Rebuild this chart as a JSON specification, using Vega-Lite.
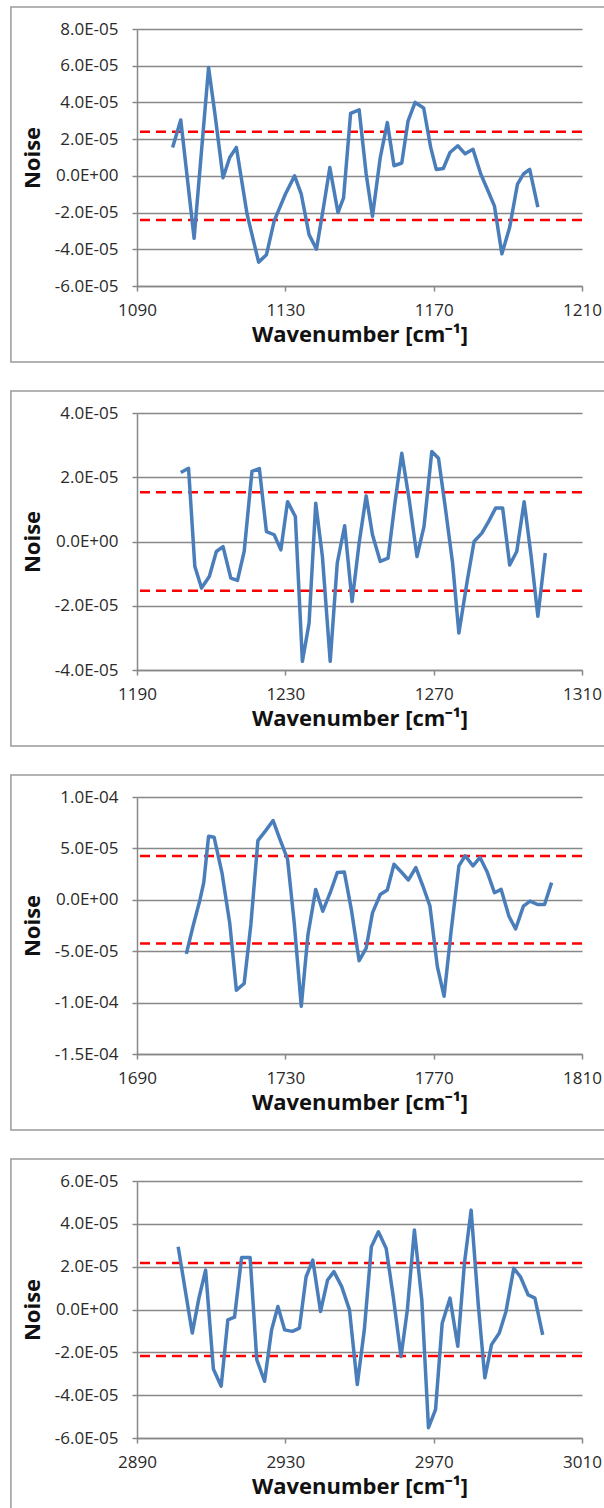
{
  "$schema": "https://vega.github.io/schema/vega-lite/v6.json",
  "padding": {"left": 10, "top": 6, "right": 0, "bottom": 0},
  "autosize": {"type": "pad"},
  "background": "white",
  "bounds": "flush",
  "spacing": 127,
  "config": {
    "view": {"stroke": null},
    "axis": {
      "labelFont": "Open Sans",
      "labelFontSize": 17,
      "labelColor": "#2a2a2a",
      "titleFont": "Open Sans",
      "titleFontSize": 22,
      "titleFontWeight": "bold",
      "titleColor": "#111111",
      "domainColor": "#888888",
      "domainWidth": 1.5,
      "tickColor": "#888888",
      "tickWidth": 1.5,
      "tickSize": 5,
      "gridColor": "#888888",
      "gridWidth": 1.3,
      "labelFlush": false,
      "labelOverlap": false,
      "labelBound": false
    },
    "axisX": {"grid": false, "labelPadding": 11, "titlePadding": 6, "format": "d"},
    "axisY": {"grid": true, "labelPadding": 14, "titlePadding": 10,
      "labelExpr": "(datum.value < -1e-12 ? '-' : '') + replace(replace(format(abs(datum.value), '.1e'), 'e-', 'E-0'), 'e+', 'E+0')"}
  },
  "datasets": {
    "p1": [
      {"wn": 1099.6, "noise": 1.55e-5}, {"wn": 1101.8, "noise": 3.04e-5}, {"wn": 1105.4, "noise": -3.4e-5},
      {"wn": 1109.3, "noise": 5.9e-5}, {"wn": 1111.0, "noise": 3.4e-5}, {"wn": 1113.2, "noise": -0.1e-5}, {"wn": 1115.0, "noise": 1.0e-5},
      {"wn": 1116.8, "noise": 1.55e-5}, {"wn": 1119.7, "noise": -2.1e-5}, {"wn": 1122.8, "noise": -4.7e-5},
      {"wn": 1124.9, "noise": -4.3e-5}, {"wn": 1127.0, "noise": -2.45e-5}, {"wn": 1130.0, "noise": -1.0e-5},
      {"wn": 1132.5, "noise": 0.0}, {"wn": 1134.3, "noise": -1.0e-5}, {"wn": 1136.4, "noise": -3.2e-5},
      {"wn": 1138.4, "noise": -4.0e-5}, {"wn": 1140.3, "noise": -1.7e-5}, {"wn": 1142.0, "noise": 0.45e-5},
      {"wn": 1144.2, "noise": -2.0e-5}, {"wn": 1145.7, "noise": -1.2e-5}, {"wn": 1147.6, "noise": 3.4e-5},
      {"wn": 1149.9, "noise": 3.6e-5}, {"wn": 1151.8, "noise": 0.1e-5}, {"wn": 1153.5, "noise": -2.2e-5},
      {"wn": 1155.6, "noise": 1.0e-5}, {"wn": 1157.5, "noise": 2.9e-5}, {"wn": 1159.3, "noise": 0.55e-5},
      {"wn": 1161.4, "noise": 0.7e-5}, {"wn": 1163.1, "noise": 3.0e-5}, {"wn": 1165.0, "noise": 4.0e-5},
      {"wn": 1167.3, "noise": 3.7e-5}, {"wn": 1169.2, "noise": 1.55e-5}, {"wn": 1170.7, "noise": 0.35e-5},
      {"wn": 1172.6, "noise": 0.4e-5}, {"wn": 1174.4, "noise": 1.27e-5}, {"wn": 1176.5, "noise": 1.64e-5},
      {"wn": 1178.5, "noise": 1.2e-5}, {"wn": 1180.6, "noise": 1.45e-5}, {"wn": 1182.7, "noise": 0.1e-5},
      {"wn": 1184.3, "noise": -0.65e-5}, {"wn": 1186.4, "noise": -1.65e-5}, {"wn": 1188.4, "noise": -4.25e-5},
      {"wn": 1190.5, "noise": -2.8e-5}, {"wn": 1192.6, "noise": -0.45e-5}, {"wn": 1194.2, "noise": 0.1e-5},
      {"wn": 1195.9, "noise": 0.35e-5}, {"wn": 1198.1, "noise": -1.7e-5}
    ],
    "p2": [
      {"wn": 1201.8, "noise": 2.15e-5}, {"wn": 1203.9, "noise": 2.28e-5}, {"wn": 1205.6, "noise": -0.78e-5},
      {"wn": 1207.4, "noise": -1.45e-5}, {"wn": 1209.5, "noise": -1.09e-5}, {"wn": 1211.4, "noise": -0.31e-5},
      {"wn": 1213.2, "noise": -0.16e-5}, {"wn": 1215.3, "noise": -1.14e-5}, {"wn": 1217.1, "noise": -1.21e-5},
      {"wn": 1218.9, "noise": -0.31e-5}, {"wn": 1221.0, "noise": 2.18e-5}, {"wn": 1223.0, "noise": 2.27e-5},
      {"wn": 1224.9, "noise": 0.31e-5}, {"wn": 1227.0, "noise": 0.21e-5}, {"wn": 1228.8, "noise": -0.26e-5},
      {"wn": 1230.6, "noise": 1.24e-5}, {"wn": 1232.7, "noise": 0.78e-5}, {"wn": 1234.6, "noise": -3.73e-5},
      {"wn": 1236.4, "noise": -2.54e-5}, {"wn": 1238.2, "noise": 1.19e-5}, {"wn": 1240.0, "noise": -0.47e-5},
      {"wn": 1242.1, "noise": -3.73e-5}, {"wn": 1244.0, "noise": -0.67e-5}, {"wn": 1246.0, "noise": 0.49e-5},
      {"wn": 1248.0, "noise": -1.87e-5}, {"wn": 1249.9, "noise": -0.05e-5}, {"wn": 1251.8, "noise": 1.42e-5},
      {"wn": 1253.5, "noise": 0.21e-5}, {"wn": 1255.6, "noise": -0.62e-5}, {"wn": 1257.7, "noise": -0.52e-5},
      {"wn": 1259.6, "noise": 1.24e-5}, {"wn": 1261.4, "noise": 2.75e-5}, {"wn": 1263.4, "noise": 1.3e-5},
      {"wn": 1265.5, "noise": -0.47e-5}, {"wn": 1267.4, "noise": 0.47e-5}, {"wn": 1269.5, "noise": 2.8e-5},
      {"wn": 1271.3, "noise": 2.59e-5}, {"wn": 1273.1, "noise": 1.09e-5}, {"wn": 1275.1, "noise": -0.67e-5},
      {"wn": 1276.8, "noise": -2.85e-5}, {"wn": 1279.1, "noise": -1.19e-5}, {"wn": 1280.9, "noise": 0.0},
      {"wn": 1283.0, "noise": 0.26e-5}, {"wn": 1284.8, "noise": 0.62e-5}, {"wn": 1286.7, "noise": 1.04e-5},
      {"wn": 1288.6, "noise": 1.04e-5}, {"wn": 1290.5, "noise": -0.73e-5}, {"wn": 1292.4, "noise": -0.31e-5},
      {"wn": 1294.4, "noise": 1.24e-5}, {"wn": 1296.3, "noise": -0.47e-5}, {"wn": 1298.1, "noise": -2.33e-5},
      {"wn": 1300.1, "noise": -0.36e-5}
    ],
    "p3": [
      {"wn": 1703.3, "noise": -5.26e-5}, {"wn": 1705.1, "noise": -2.58e-5}, {"wn": 1707.0, "noise": 0.03e-5},
      {"wn": 1708.0, "noise": 1.67e-5}, {"wn": 1709.3, "noise": 6.18e-5}, {"wn": 1710.8, "noise": 6.08e-5},
      {"wn": 1712.9, "noise": 2.65e-5}, {"wn": 1715.0, "noise": -2.25e-5}, {"wn": 1716.8, "noise": -8.8e-5},
      {"wn": 1718.9, "noise": -8.14e-5}, {"wn": 1720.7, "noise": -2.42e-5}, {"wn": 1722.6, "noise": 5.75e-5},
      {"wn": 1724.7, "noise": 6.73e-5}, {"wn": 1726.7, "noise": 7.71e-5}, {"wn": 1728.5, "noise": 5.92e-5},
      {"wn": 1730.6, "noise": 3.95e-5}, {"wn": 1732.4, "noise": -2.25e-5}, {"wn": 1734.3, "noise": -10.36e-5},
      {"wn": 1736.1, "noise": -3.4e-5}, {"wn": 1738.2, "noise": 1.01e-5}, {"wn": 1740.1, "noise": -1.11e-5},
      {"wn": 1742.1, "noise": 0.69e-5}, {"wn": 1744.0, "noise": 2.65e-5}, {"wn": 1745.9, "noise": 2.71e-5},
      {"wn": 1747.8, "noise": -0.95e-5}, {"wn": 1749.9, "noise": -5.92e-5}, {"wn": 1751.8, "noise": -4.7e-5},
      {"wn": 1753.5, "noise": -1.27e-5}, {"wn": 1755.6, "noise": 0.52e-5}, {"wn": 1757.5, "noise": 0.95e-5},
      {"wn": 1759.3, "noise": 3.46e-5}, {"wn": 1761.4, "noise": 2.65e-5}, {"wn": 1763.2, "noise": 1.93e-5},
      {"wn": 1765.2, "noise": 3.14e-5}, {"wn": 1767.1, "noise": 1.34e-5}, {"wn": 1769.0, "noise": -0.62e-5},
      {"wn": 1771.0, "noise": -6.5e-5}, {"wn": 1772.8, "noise": -9.38e-5}, {"wn": 1774.7, "noise": -3.07e-5},
      {"wn": 1776.8, "noise": 3.3e-5}, {"wn": 1778.5, "noise": 4.28e-5}, {"wn": 1780.6, "noise": 3.3e-5},
      {"wn": 1782.5, "noise": 4.12e-5}, {"wn": 1784.5, "noise": 2.65e-5}, {"wn": 1786.4, "noise": 0.69e-5},
      {"wn": 1788.2, "noise": 1.01e-5}, {"wn": 1790.3, "noise": -1.6e-5}, {"wn": 1792.1, "noise": -2.84e-5},
      {"wn": 1794.2, "noise": -0.62e-5}, {"wn": 1796.0, "noise": -0.13e-5}, {"wn": 1798.0, "noise": -0.46e-5},
      {"wn": 1799.9, "noise": -0.46e-5}, {"wn": 1801.8, "noise": 1.67e-5}
    ],
    "p4": [
      {"wn": 2901.1, "noise": 2.93e-5}, {"wn": 2903.0, "noise": 0.91e-5}, {"wn": 2904.9, "noise": -1.1e-5},
      {"wn": 2906.7, "noise": 0.53e-5}, {"wn": 2908.5, "noise": 1.84e-5}, {"wn": 2910.6, "noise": -2.78e-5},
      {"wn": 2912.7, "noise": -3.58e-5}, {"wn": 2914.5, "noise": -0.48e-5}, {"wn": 2916.3, "noise": -0.36e-5},
      {"wn": 2918.2, "noise": 2.43e-5}, {"wn": 2920.5, "noise": 2.43e-5}, {"wn": 2922.3, "noise": -2.34e-5},
      {"wn": 2924.4, "noise": -3.35e-5}, {"wn": 2926.3, "noise": -0.95e-5}, {"wn": 2928.0, "noise": 0.14e-5},
      {"wn": 2929.8, "noise": -0.95e-5}, {"wn": 2931.9, "noise": -1.02e-5}, {"wn": 2933.8, "noise": -0.87e-5},
      {"wn": 2935.6, "noise": 1.53e-5}, {"wn": 2937.4, "noise": 2.31e-5}, {"wn": 2939.5, "noise": -0.09e-5},
      {"wn": 2941.4, "noise": 1.38e-5}, {"wn": 2943.1, "noise": 1.77e-5}, {"wn": 2945.2, "noise": 1.07e-5},
      {"wn": 2947.3, "noise": -0.02e-5}, {"wn": 2949.4, "noise": -3.5e-5}, {"wn": 2951.3, "noise": -0.95e-5},
      {"wn": 2953.2, "noise": 2.93e-5}, {"wn": 2955.1, "noise": 3.63e-5}, {"wn": 2957.2, "noise": 2.85e-5},
      {"wn": 2959.1, "noise": 0.6e-5}, {"wn": 2961.2, "noise": -2.19e-5}, {"wn": 2962.9, "noise": -0.02e-5},
      {"wn": 2964.8, "noise": 3.71e-5}, {"wn": 2966.8, "noise": 0.45e-5}, {"wn": 2968.6, "noise": -5.52e-5},
      {"wn": 2970.5, "noise": -4.67e-5}, {"wn": 2972.3, "noise": -0.64e-5}, {"wn": 2974.4, "noise": 0.53e-5},
      {"wn": 2976.5, "noise": -1.72e-5}, {"wn": 2978.3, "noise": 2.16e-5}, {"wn": 2980.1, "noise": 4.64e-5},
      {"wn": 2982.0, "noise": 0.29e-5}, {"wn": 2983.8, "noise": -3.19e-5}, {"wn": 2985.6, "noise": -1.64e-5},
      {"wn": 2987.7, "noise": -1.1e-5}, {"wn": 2989.5, "noise": -0.09e-5}, {"wn": 2991.6, "noise": 1.92e-5},
      {"wn": 2993.4, "noise": 1.53e-5}, {"wn": 2995.5, "noise": 0.68e-5}, {"wn": 2997.3, "noise": 0.53e-5},
      {"wn": 2999.4, "noise": -1.18e-5}
    ],
    "l1": [{"lim": 2.4e-5}, {"lim": -2.4e-5}],
    "l2": [{"lim": 1.53e-5}, {"lim": -1.53e-5}],
    "l3": [{"lim": 4.25e-5}, {"lim": -4.25e-5}],
    "l4": [{"lim": 2.17e-5}, {"lim": -2.17e-5}],
    "one": [{"frame": 1}]
  },
  "vconcat": [
    {
      "width": 445, "height": 257,
      "layer": [
        {"data": {"name": "one"},
         "mark": {"type": "rect", "fill": null, "stroke": "#9a9a9a", "strokeWidth": 1.5, "clip": false},
         "encoding": {
           "x": {"datum": 1056.0, "type": "quantitative", "scale": {"domain": [1090, 1210], "nice": false, "zero": false},
                 "axis": {"values": [1090, 1130, 1170, 1210], "title": "Wavenumber [cm\u207b\u00b9]"}},
           "x2": {"datum": 1222},
           "y": {"datum": 9.198e-5, "type": "quantitative", "scale": {"domain": [-6e-5, 8e-5], "nice": false, "zero": false},
                 "axis": {"values": [-6e-5, -4e-5, -2e-5, 0, 2e-5, 4e-5, 6e-5, 8e-5], "title": "Noise"}},
           "y2": {"datum": -1.014e-4}}},
        {"data": {"name": "l1"}, "mark": {"type": "rule", "color": "#ff0000", "strokeWidth": 2.5, "strokeDash": [10, 6]},
         "encoding": {
           "y": {"field": "lim", "type": "quantitative", "scale": {"domain": [-6e-5, 8e-5], "nice": false, "zero": false},
                 "axis": {"values": [-6e-5, -4e-5, -2e-5, 0, 2e-5, 4e-5, 6e-5, 8e-5], "title": "Noise"}}}},
        {"data": {"name": "p1"}, "mark": {"type": "line", "color": "#4a7ebb", "strokeWidth": 3.5, "strokeJoin": "round"},
         "encoding": {
           "x": {"field": "wn", "type": "quantitative", "scale": {"domain": [1090, 1210], "nice": false, "zero": false},
                 "axis": {"values": [1090, 1130, 1170, 1210], "title": "Wavenumber [cm\u207b\u00b9]"}},
           "y": {"field": "noise", "type": "quantitative", "scale": {"domain": [-6e-5, 8e-5], "nice": false, "zero": false},
                 "axis": {"values": [-6e-5, -4e-5, -2e-5, 0, 2e-5, 4e-5, 6e-5, 8e-5], "title": "Noise"}}
         }}
      ]
    },
    {
      "width": 445, "height": 257,
      "layer": [
        {"data": {"name": "one"},
         "mark": {"type": "rect", "fill": null, "stroke": "#9a9a9a", "strokeWidth": 1.5, "clip": false},
         "encoding": {
           "x": {"datum": 1156.0, "type": "quantitative", "scale": {"domain": [1190, 1310], "nice": false, "zero": false},
                 "axis": {"values": [1190, 1230, 1270, 1310], "title": "Wavenumber [cm\u207b\u00b9]"}},
           "x2": {"datum": 1322},
           "y": {"datum": 4.685e-5, "type": "quantitative", "scale": {"domain": [-4e-5, 4e-5], "nice": false, "zero": false},
                 "axis": {"values": [-4e-5, -2e-5, 0, 2e-5, 4e-5], "title": "Noise"}},
           "y2": {"datum": -6.366e-5}}},
        {"data": {"name": "l2"}, "mark": {"type": "rule", "color": "#ff0000", "strokeWidth": 2.5, "strokeDash": [10, 6]},
         "encoding": {
           "y": {"field": "lim", "type": "quantitative", "scale": {"domain": [-4e-5, 4e-5], "nice": false, "zero": false},
                 "axis": {"values": [-4e-5, -2e-5, 0, 2e-5, 4e-5], "title": "Noise"}}}},
        {"data": {"name": "p2"}, "mark": {"type": "line", "color": "#4a7ebb", "strokeWidth": 3.5, "strokeJoin": "round"},
         "encoding": {
           "x": {"field": "wn", "type": "quantitative", "scale": {"domain": [1190, 1310], "nice": false, "zero": false},
                 "axis": {"values": [1190, 1230, 1270, 1310], "title": "Wavenumber [cm\u207b\u00b9]"}},
           "y": {"field": "noise", "type": "quantitative", "scale": {"domain": [-4e-5, 4e-5], "nice": false, "zero": false},
                 "axis": {"values": [-4e-5, -2e-5, 0, 2e-5, 4e-5], "title": "Noise"}}
         }}
      ]
    },
    {
      "width": 445, "height": 257,
      "layer": [
        {"data": {"name": "one"},
         "mark": {"type": "rect", "fill": null, "stroke": "#9a9a9a", "strokeWidth": 1.5, "clip": false},
         "encoding": {
           "x": {"datum": 1656.0, "type": "quantitative", "scale": {"domain": [1690, 1810], "nice": false, "zero": false},
                 "axis": {"values": [1690, 1730, 1770, 1810], "title": "Wavenumber [cm\u207b\u00b9]"}},
           "x2": {"datum": 1822},
           "y": {"datum": 1.214e-4, "type": "quantitative", "scale": {"domain": [-1.5e-4, 1e-4], "nice": false, "zero": false},
                 "axis": {"values": [-1.5e-4, -1e-4, -5e-5, 0, 5e-5, 1e-4], "title": "Noise"}},
           "y2": {"datum": -2.239e-4}}},
        {"data": {"name": "l3"}, "mark": {"type": "rule", "color": "#ff0000", "strokeWidth": 2.5, "strokeDash": [10, 6]},
         "encoding": {
           "y": {"field": "lim", "type": "quantitative", "scale": {"domain": [-1.5e-4, 1e-4], "nice": false, "zero": false},
                 "axis": {"values": [-1.5e-4, -1e-4, -5e-5, 0, 5e-5, 1e-4], "title": "Noise"}}}},
        {"data": {"name": "p3"}, "mark": {"type": "line", "color": "#4a7ebb", "strokeWidth": 3.5, "strokeJoin": "round"},
         "encoding": {
           "x": {"field": "wn", "type": "quantitative", "scale": {"domain": [1690, 1810], "nice": false, "zero": false},
                 "axis": {"values": [1690, 1730, 1770, 1810], "title": "Wavenumber [cm\u207b\u00b9]"}},
           "y": {"field": "noise", "type": "quantitative", "scale": {"domain": [-1.5e-4, 1e-4], "nice": false, "zero": false},
                 "axis": {"values": [-1.5e-4, -1e-4, -5e-5, 0, 5e-5, 1e-4], "title": "Noise"}}
         }}
      ]
    },
    {
      "width": 445, "height": 257,
      "layer": [
        {"data": {"name": "one"},
         "mark": {"type": "rect", "fill": null, "stroke": "#9a9a9a", "strokeWidth": 1.5, "clip": false},
         "encoding": {
           "x": {"datum": 2856.0, "type": "quantitative", "scale": {"domain": [2890, 3010], "nice": false, "zero": false},
                 "axis": {"values": [2890, 2930, 2970, 3010], "title": "Wavenumber [cm\u207b\u00b9]"}},
           "x2": {"datum": 3022},
           "y": {"datum": 7.027e-5, "type": "quantitative", "scale": {"domain": [-6e-5, 6e-5], "nice": false, "zero": false},
                 "axis": {"values": [-6e-5, -4e-5, -2e-5, 0, 2e-5, 4e-5, 6e-5], "title": "Noise"}},
           "y2": {"datum": -9.549e-5}}},
        {"data": {"name": "l4"}, "mark": {"type": "rule", "color": "#ff0000", "strokeWidth": 2.5, "strokeDash": [10, 6]},
         "encoding": {
           "y": {"field": "lim", "type": "quantitative", "scale": {"domain": [-6e-5, 6e-5], "nice": false, "zero": false},
                 "axis": {"values": [-6e-5, -4e-5, -2e-5, 0, 2e-5, 4e-5, 6e-5], "title": "Noise"}}}},
        {"data": {"name": "p4"}, "mark": {"type": "line", "color": "#4a7ebb", "strokeWidth": 3.5, "strokeJoin": "round"},
         "encoding": {
           "x": {"field": "wn", "type": "quantitative", "scale": {"domain": [2890, 3010], "nice": false, "zero": false},
                 "axis": {"values": [2890, 2930, 2970, 3010], "title": "Wavenumber [cm\u207b\u00b9]"}},
           "y": {"field": "noise", "type": "quantitative", "scale": {"domain": [-6e-5, 6e-5], "nice": false, "zero": false},
                 "axis": {"values": [-6e-5, -4e-5, -2e-5, 0, 2e-5, 4e-5, 6e-5], "title": "Noise"}}
         }}
      ]
    }
  ]
}
